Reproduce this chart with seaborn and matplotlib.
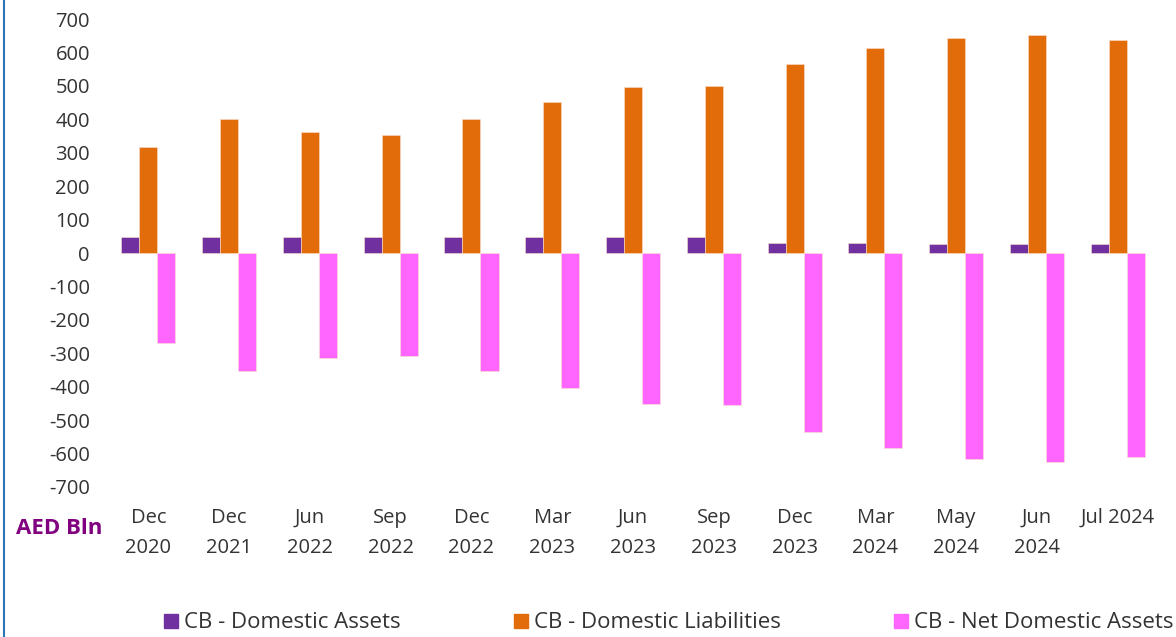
import pandas as pd
import matplotlib.pyplot as plt
import matplotlib.patches as mpatches
from matplotlib.lines import Line2D
import seaborn as sns

sns.set_theme(style="white")
plt.rcParams["font.family"] = ["Open Sans", "DejaVu Sans"]
plt.rcParams["axes.unicode_minus"] = False

PERIODOS = ["Dec\n2020", "Dec\n2021", "Jun\n2022", "Sep\n2022", "Dec\n2022", "Mar\n2023",
            "Jun\n2023", "Sep\n2023", "Dec\n2023", "Mar\n2024", "May\n2024", "Jun\n2024",
            "Jul 2024"]
ATIVOS = [47, 47, 47, 47, 47, 47, 47, 47, 31, 31, 27, 27, 27]
PASSIVOS = [316, 401, 361, 354, 401, 451, 498, 501, 567, 614, 642, 651, 638]
LIQUIDOS = [-269, -354, -314, -307, -354, -404, -451, -454, -536, -583, -615, -624, -611]

SERIES = ["CB - Domestic Assets", "CB - Domestic Liabilities", "CB - Net Domestic Assets"]
CORES = ["#7030A0", "#E36C0A", "#FF66FF"]

df = pd.DataFrame({"Periodo": PERIODOS * 3,
                   "Serie": [SERIES[0]] * 13 + [SERIES[1]] * 13 + [SERIES[2]] * 13,
                   "Valor": ATIVOS + PASSIVOS + LIQUIDOS})

fig = plt.figure(figsize=(11.76, 6.37), dpi=100)
ax = fig.add_axes([0.0918, 0.2355, 0.893, 0.7345])

sns.barplot(data=df, x="Periodo", y="Valor", hue="Serie", palette=CORES, saturation=1,
            width=0.67, ax=ax, edgecolor="#fbe0d0", linewidth=0.4, legend=False)

ax.set_ylim(-700, 700)
ax.set_xlim(-0.5, len(PERIODOS) - 0.5)
ax.set_yticks(range(-700, 701, 100))
ax.tick_params(axis="y", labelsize=14.5, colors="#333333", length=0, pad=13)
ax.tick_params(axis="x", labelsize=14.5, colors="#333333", length=0, pad=15)
for t in ax.get_xticklabels():
    t.set_linespacing(1.7)
ax.set_xlabel("")
ax.set_ylabel("")
for s in ax.spines.values():
    s.set_visible(False)

fig.text(0.014, 0.171, "AED Bln", color="#800080", fontsize=16, fontweight="bold",
         va="center", ha="left")

# moldura azul à esquerda
fig.add_artist(Line2D([0.003, 0.003], [0, 1], color="#2E75B6", linewidth=1.5))

handles = [mpatches.Patch(color=c, label=s) for c, s in zip(CORES, SERIES)]
fig.legend(handles=handles, loc="center", bbox_to_anchor=(0.569, 0.022), ncol=3,
           frameon=False, fontsize=16, handlelength=0.6, handleheight=0.6,
           handletextpad=0.3, columnspacing=5.1, labelcolor="#333333")

fig.savefig("out.png", dpi=100)
